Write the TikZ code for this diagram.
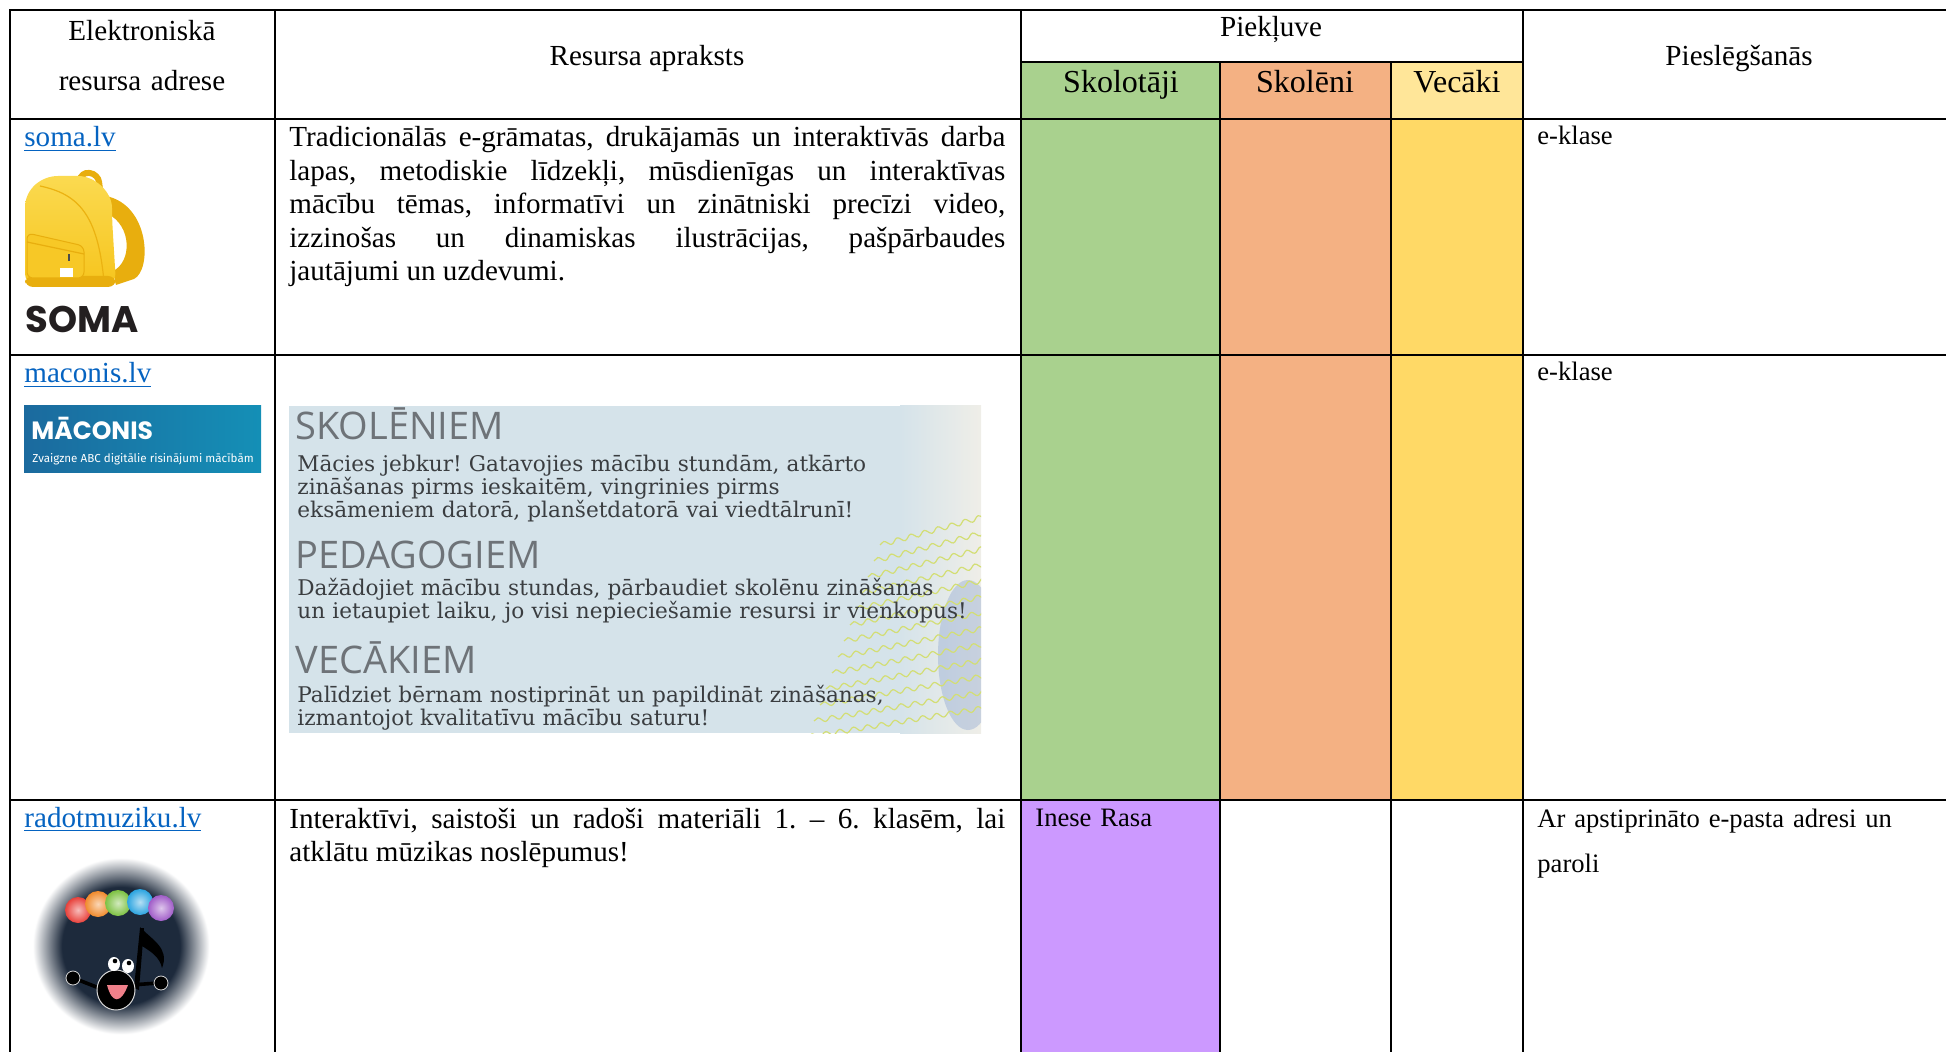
\documentclass[tikz,border=0pt]{standalone}
\usepackage{fontspec}
\setmainfont{Liberation Serif}
\newfontfamily\headsans{Open Sans}
\newfontfamily\panelserif{DejaVu Serif}
\newfontfamily\logopop{Poppins}
\newfontfamily\logofira{Fira Sans}
\usetikzlibrary{decorations.pathmorphing}
\hyphenpenalty=10000
\exhyphenpenalty=10000
\frenchspacing
\definecolor{teach}{HTML}{A9D18E}
\definecolor{pupil}{HTML}{F4B183}
\definecolor{parent}{HTML}{FFD966}
\definecolor{parenthead}{HTML}{FFE699}
\definecolor{lilac}{HTML}{CC99FF}
\definecolor{linkblue}{HTML}{0563C1}
\definecolor{panelbg}{HTML}{D5E3EA}
\definecolor{panellight}{HTML}{EFEEE8}
\definecolor{panelgrey}{HTML}{6E7378}
\definecolor{paneltext}{HTML}{3A3D40}
\definecolor{wavegreen}{HTML}{D3DE74}
\definecolor{kidblue}{HTML}{6F8FC8}
\definecolor{maconisblue}{HTML}{1B6A9E}
\definecolor{baglight}{HTML}{FBDA50}
\definecolor{bagyellow}{HTML}{F6C51E}
\definecolor{bagdark}{HTML}{E8AE0E}
\definecolor{somaink}{HTML}{231F20}
\definecolor{lognavy}{HTML}{1D2A3C}
\definecolor{blobred}{HTML}{E8403A}
\definecolor{bloborange}{HTML}{F08A2C}
\definecolor{blobgreen}{HTML}{7DC142}
\definecolor{blobblue}{HTML}{2BA4E0}
\definecolor{blobpurple}{HTML}{A05CC8}
\definecolor{mouthpink}{HTML}{F0808A}
\pgfdeclareradialshading{glow}{\pgfpoint{0bp}{0bp}}{color(0bp)=(lognavy); color(16bp)=(lognavy); color(24bp)=(white); color(25bp)=(white); color(50bp)=(white)}
\tikzset{
  rule/.style={line width=1.1pt, line cap=rect},
  cell/.style={inner sep=0pt, anchor=base west, font=\fontsize{14.55}{16.75}\selectfont},
  head/.style={inner sep=0pt, anchor=base, font=\fontsize{14.55}{25}\selectfont},
  group/.style={inner sep=0pt, anchor=base, font=\fontsize{16}{19}\selectfont},
  note/.style={inner sep=0pt, anchor=base west, text width=200pt, align=left, font=\fontsize{13.3}{22.5}\selectfont},
  link/.style={cell, text=linkblue},
  para/.style={cell, text width=358pt, align=justify},
  panelhead/.style={inner sep=0pt, anchor=base west, text=panelgrey, font=\headsans\fontsize{19}{20}\selectfont},
  panelbody/.style={inner sep=0pt, anchor=base west, text=paneltext, text width=380pt, align=left, font=\panelserif\fontsize{10.8}{11.5}\selectfont},
  limb/.style={black, line width=1.8pt, line cap=round},
}

\begin{document}
\begin{tikzpicture}[x=0.5pt, y=-0.5pt]
  \useasboundingbox (0,0) rectangle (1946,1052);
  \def\xL{10} \def\xA{275} \def\xB{1021} \def\xC{1220} \def\xD{1391} \def\xE{1523} \def\xR{1946}
  \def\yT{10} \def\yS{62} \def\yH{119} \def\yA{355} \def\yB{800} \def\yBot{1052}
  % column colours
  \fill[teach] (\xB,\yS) rectangle (\xC,\yB);
  \fill[pupil] (\xC,\yS) rectangle (\xD,\yB);
  \fill[parenthead] (\xD,\yS) rectangle (\xE,\yH);
  \fill[parent] (\xD,\yH) rectangle (\xE,\yB);
  \fill[lilac] (\xB,\yB) rectangle (\xC,\yBot);
  % grid
  \foreach \y in {\yT,\yH,\yA,\yB}
    \draw[rule] (\xL,\y) -- (\xR,\y);
  \draw[rule] (\xB,\yS) -- (\xE,\yS);
  \foreach \x in {\xL,\xA,\xB,\xE}
    \draw[rule] (\x,\yT) -- (\x,\yBot);
  \foreach \x in {\xC,\xD}
    \draw[rule] (\x,\yS) -- (\x,\yBot);
  % header
  \node[head, text width=125pt, align=center] (hdAddr) at (142,41) {Elektroniskā\\resursa adrese};
  \node[head] (hdDesc) at (647,66) {Resursa apraksts};
  \node[head] (hdAccess) at (1271,37) {Piekļuve};
  \node[group] (hdTeach) at (1121,93) {Skolotāji};
  \node[group] (hdPupil) at (1305,93) {Skolēni};
  \node[group] (hdParent) at (1457,93) {Vecāki};
  \node[head] (hdLogin) at (1739,66) {Pieslēgšanās};
  % row soma
  \node[link] (somaLink) at (24,147) {\underline{soma.lv}};
  \fill[bagdark] (106,196) .. controls (150,205) and (152,270) .. (134,279) -- (116,285) -- (113,271) .. controls (132,262) and (132,226) .. (108,214) -- cycle;
  \draw[bagdark, line width=3pt, rounded corners=4pt] (79,186) -- (81,172) -- (98,174) -- (100,189);
  \shade[top color=baglight, bottom color=bagyellow, rounded corners=5pt] (25,284) -- (25,218) .. controls (25,188) and (42,176) .. (68,176) .. controls (95,176) and (112,192) .. (112,218) -- (116,284) -- cycle;
  \draw[bagdark!80!bagyellow, line width=0.6pt] (40,186) .. controls (78,194) and (98,214) .. (104,282);
  \fill[bagdark, rounded corners=4pt] (25,276) rectangle (116,287);
  \filldraw[fill=bagyellow!85!baglight, draw=bagdark, line width=0.5pt, rounded corners=3pt] (27,233) -- (84,246) -- (84,278) -- (27,278) -- cycle;
  \draw[bagdark, line width=0.6pt] (27,242) -- (84,254);
  \fill[white] (60,268) rectangle (73,277);
  \fill[black!70] (68,254) rectangle (70,261);
  \node[inner sep=0pt, anchor=base west, text=somaink, font=\logopop\bfseries\fontsize{18.5}{18.5}\selectfont] (somaWord) at (25,333) {SOMA};
  \node[para] (somaDesc) at (289,147) {Tradicionālās e-grāmatas, drukājamās un interaktīvās darba\linebreak lapas, metodiskie līdzekļi, mūsdienīgas un interaktīvas\linebreak mācību tēmas, informatīvi un zinātniski precīzi video,\linebreak izzinošas un dinamiskas ilustrācijas, pašpārbaudes\linebreak jautājumi un uzdevumi.};
  \node[note] (somaLogin) at (1537,145) {e-klase};
  % row maconis
  \node[link] (maconisLink) at (24,383) {\underline{maconis.lv}};
  \shade[left color=maconisblue, right color=maconisblue!75!cyan] (24,406) rectangle (261,473);
  \node[inner sep=0pt, anchor=base west, text=white, font=\logopop\bfseries\fontsize{12.5}{12.5}\selectfont] (maconisWord) at (31,440) {MĀCONIS};
  \node[inner sep=0pt, anchor=base west, text=white, font=\logofira\fontsize{5.8}{6}\selectfont] (maconisSub) at (32,463) {Zvaigzne ABC digitālie risinājumi mācībām};
  \begin{scope}
    \clip (289,406) rectangle (981,733);
    \fill[panelbg] (289,406) rectangle (981,733);
    \shade[left color=panelbg, right color=panellight] (900,406) rectangle (981,733);
    \fill[kidblue, opacity=0.3] (968,655) ellipse (30 and 75);
    \foreach \k in {0,...,12}
      \draw[wavegreen, line width=0.6pt, decorate, decoration={snake, amplitude=1.2pt, segment length=7pt}] ({880-\k*6},{545+\k*16}) -- (990,{515+\k*16});
  \end{scope}
  \node[panelhead] (panelPupil) at (295,440) {SKOLĒNIEM};
  \node[panelbody] (panelPupilTxt) at (297,472) {Mācies jebkur! Gatavojies mācību stundām, atkārto\\zināšanas pirms ieskaitēm, vingrinies pirms\\eksāmeniem datorā, planšetdatorā vai viedtālrunī!};
  \node[panelhead] (panelTeach) at (295,568) {PEDAGOGIEM};
  \node[panelbody] (panelTeachTxt) at (297,596) {Dažādojiet mācību stundas, pārbaudiet skolēnu zināšanas\\un ietaupiet laiku, jo visi nepieciešamie resursi ir vienkopus!};
  \node[panelhead] (panelParent) at (295,673) {VECĀKIEM};
  \node[panelbody] (panelParentTxt) at (297,702) {Palīdziet bērnam nostiprināt un papildināt zināšanas,\\izmantojot kvalitatīvu mācību saturu!};
  \node[note] (maconisLogin) at (1537,381) {e-klase};
  % row radotmuziku
  \node[link] (musicLink) at (24,827) {\underline{radotmuziku.lv}};
  \shade[shading=glow] (121,946) circle (92);
  \foreach \c/\x/\y in {blobred/78/910, bloborange/98/904, blobgreen/118/903, blobblue/140/902, blobpurple/161/908}
    \shade[inner color=\c!35!white, outer color=\c] (\x,\y) circle (13);
  \fill[black] (134,988) -- (140,928) -- (144,928) -- (139,990) -- cycle;
  \fill[black] (140,927) .. controls (152,940) and (170,948) .. (162,968) .. controls (160,958) and (152,952) .. (142,946) -- cycle;
  \draw[limb] (99,988) -- (76,979);
  \draw[limb] (131,985) -- (158,983);
  \filldraw[black, draw=white!70!gray, line width=0.4pt] (73,978) circle (7);
  \filldraw[black, draw=white!70!gray, line width=0.4pt] (161,983) circle (7);
  \filldraw[black, draw=white!70!gray, line width=0.5pt] (116,990) ellipse (19 and 20);
  \fill[white] (114,964) ellipse (6 and 7);
  \fill[white] (128,966) ellipse (6 and 7);
  \fill[black] (115,961) circle (2.3);
  \fill[black] (129,963) circle (2.3);
  \fill[mouthpink] (107,985) .. controls (112,1004) and (121,1004) .. (128,985) -- cycle;
  \node[para] (musicDesc) at (289,828) {Interaktīvi, saistoši un radoši materiāli 1.~–~6.~klasēm, lai\linebreak atklātu mūzikas noslēpumus!};
  \node[note] (musicTeach) at (1035,826) {Inese Rasa};
  \node[note] (musicLogin) at (1537,827) {Ar apstiprināto e-pasta adresi un\\paroli};
\end{tikzpicture}
\end{document}
